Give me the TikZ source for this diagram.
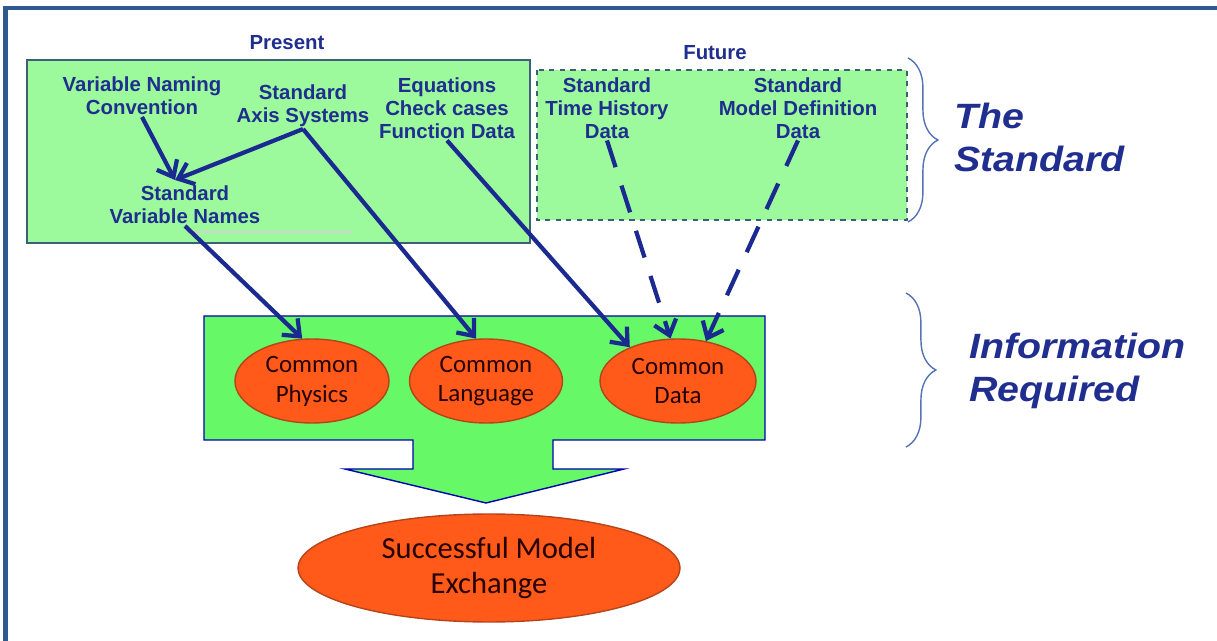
\documentclass[tikz,border=0pt]{standalone}
\usepackage{fontspec}
\setmainfont{Liberation Sans}
\newfontfamily\calfont{Carlito}
\newfontfamily\widefont[FakeStretch=1.12]{Liberation Sans}
\usetikzlibrary{arrows.meta, positioning, shapes.geometric, decorations.pathreplacing, calc}
\definecolor{boxgreen}{HTML}{9CFA9C}
\definecolor{flowgreen}{HTML}{66F866}
\definecolor{navytext}{HTML}{1F2E8F}
\definecolor{arrowblue}{HTML}{1B2A90}
\definecolor{ovalred}{HTML}{FF5A1A}
\definecolor{ovaledge}{HTML}{B5441A}
\definecolor{bracecol}{HTML}{5573B5}
\definecolor{framecol}{HTML}{2F5A90}
\definecolor{boxedge}{HTML}{3F5F78}

\tikzset{
  BoxText/.style = {
      text=navytext,
      font=\bfseries\fontsize{11.6}{13}\selectfont,
      align=center,
      inner sep=1pt,
  },
  BoxLabel/.style = {
      text=navytext,
      font=\bfseries\fontsize{11.6}{13}\selectfont,
  },
  Oval/.style = {
      ellipse,
      draw=ovaledge,
      fill=ovalred,
      line width=0.8pt,
      inner sep=0pt,
      align=center,
      text=black!85!red,
      font=\calfont\fontsize{14.2}{17}\selectfont,
  },
  SideLabel/.style = {
      anchor=west,
      align=left,
      text=navytext,
      font=\widefont\bfseries\itshape\fontsize{20}{24.5}\selectfont,
  },
  FlowArrow/.style = {
      draw=arrowblue,
      line width=2.4pt,
      -{Straight Barb[length=8pt, width=13pt, line width=2.4pt]},
  },
  FutureArrow/.style = {
      FlowArrow,
      dash pattern=on 16pt off 11pt,
  },
  SideBrace/.style = {
      draw=bracecol,
      line width=0.8pt,
      decorate,
      decoration={brace, amplitude=17pt},
  },
}

\begin{document}
\begin{tikzpicture}[x=0.02cm, y=-0.02cm]
  \useasboundingbox (0,0) rectangle (1217,641);

  % Rahmen oben und links
  \draw[framecol, line width=2.6pt] (5.5,641) -- (5.5,8) -- (1217,8);

  % Obere Kaesten
  \draw[boxedge, fill=boxgreen, line width=0.9pt] (27,60) rectangle (530,243);
  \draw[boxedge, fill=boxgreen, line width=0.9pt, dashed] (537,70) rectangle (907,220);
  \draw[gray!35, line width=0.8pt] (187,232) -- (352,232);

  \node[BoxLabel] (presentlabel) at (287,43) {Present};
  \node[BoxLabel] (futurelabel) at (715,53) {Future};

  \node[BoxText] (naming) at (142,96) {Variable Naming\\Convention};
  \node[BoxText] (axis) at (303,106) {Standard\\Axis Systems};
  \node[BoxText] (equations) at (447,108) {Equations\\Check cases\\Function Data};
  \node[BoxText] (varnames) at (185,205) {Standard\\Variable Names};
  \node[BoxText] (timehist) at (607,108) {Standard\\Time History\\Data};
  \node[BoxText] (modeldef) at (798,108) {Standard\\Model Definition\\Data};
  \coordinate (varnamesin) at (175,180);

  % Unterer Block mit Pfeil
  \draw[draw=blue!70!black, fill=flowgreen, line width=0.8pt]
    (204,316) -- (765,316) -- (765,440) -- (553,440) -- (553,469) -- (624,469)
    -- (486,503) -- (345,469) -- (413,469) -- (413,440) -- (204,440) -- cycle;

  \node[Oval, minimum width=3.08cm, minimum height=1.68cm] (physics) at (312,381) {Common\\Physics};
  \node[Oval, minimum width=3.06cm, minimum height=1.68cm] (language) at (486,381) {Common\\Language};
  \node[Oval, minimum width=3.12cm, minimum height=1.68cm] (data) at (678,381) {Common\\Data};
  \node[Oval, minimum width=7.64cm, minimum height=2.16cm,
        font=\calfont\fontsize{17.4}{20.4}\selectfont] (exchange) at (489,568) {Successful Model\\Exchange};

  % Pfeile
  \draw[FlowArrow] (naming.south) -- (varnamesin);
  \draw[FlowArrow] (axis.south) -- (varnamesin);
  \draw[FlowArrow] (axis.south) -- (language.103);
  \draw[FlowArrow] (varnames.south) -- (physics.103);
  \draw[FlowArrow] (equations.south) -- (data.145);
  \draw[FutureArrow] (timehist.south) -- (data.100);
  \draw[FutureArrow] (modeldef.south) -- (data.55);

  % Klammern rechts
  \draw[SideBrace] (908,58) -- (908,222);
  \draw[SideBrace] (906,293) -- (906,447);
  \node[SideLabel] (standardlabel) at (948,137) {The\\Standard};
  \node[SideLabel] (infolabel) at (963,371) {Information\\Required};
\end{tikzpicture}
\end{document}
